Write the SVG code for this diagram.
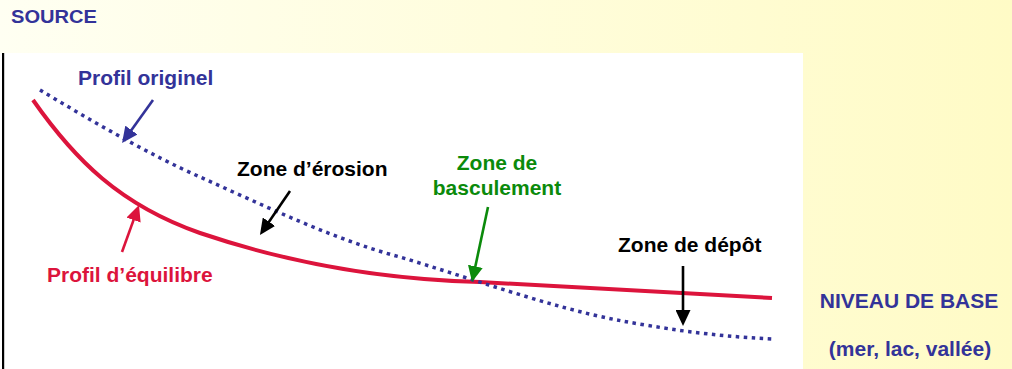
<svg xmlns="http://www.w3.org/2000/svg" width="1012" height="369" viewBox="0 0 1012 369">
  <defs>
    <linearGradient id="bg" x1="0" y1="0" x2="1" y2="0">
      <stop offset="0" stop-color="#FFFFF2"/>
      <stop offset="1" stop-color="#FFFBC6"/>
    </linearGradient>
    <marker id="ahBlue" viewBox="0 0 16 15" refX="6" refY="7.5" markerWidth="16" markerHeight="15" markerUnits="userSpaceOnUse" orient="auto">
      <path d="M0,0 L16,7.5 L0,15 z" fill="#333399"/>
    </marker>
    <marker id="ahRed" viewBox="0 0 16 15" refX="6" refY="7.5" markerWidth="16" markerHeight="15" markerUnits="userSpaceOnUse" orient="auto">
      <path d="M0,0 L16,7.5 L0,15 z" fill="#DC143C"/>
    </marker>
    <marker id="ahBlack" viewBox="0 0 16 15" refX="6" refY="7.5" markerWidth="16" markerHeight="15" markerUnits="userSpaceOnUse" orient="auto">
      <path d="M0,0 L16,7.5 L0,15 z" fill="#000000"/>
    </marker>
    <marker id="ahGreen" viewBox="0 0 16 15" refX="6" refY="7.5" markerWidth="16" markerHeight="15" markerUnits="userSpaceOnUse" orient="auto">
      <path d="M0,0 L16,7.5 L0,15 z" fill="#0B8A0B"/>
    </marker>
  </defs>
  <style>
    text { font-family: "Liberation Sans", Arial, sans-serif; font-weight: bold; font-size: 21px; }
    .blue { fill: #333399; }
    .red { fill: #DC143C; }
    .black { fill: #000000; }
    .green { fill: #0B8A0B; }
    .profile-eq { fill: none; stroke: #DC143C; stroke-width: 4; }
    .profile-orig { fill: none; stroke: #333399; stroke-width: 3.5; stroke-dasharray: 3.5 4.5; }
    .arrow { fill: none; stroke-width: 2.6; }
  </style>

  <rect x="0" y="0" width="1012" height="369" fill="url(#bg)"/>
  <rect x="0" y="53" width="803" height="316" fill="#FFFFFF"/>
  <rect x="2" y="53" width="2.2" height="316" fill="#000000"/>

  <g id="title-source">
    <text x="11" y="23" class="blue" style="font-size:19px" textLength="86" lengthAdjust="spacingAndGlyphs">SOURCE</text>
  </g>

  <g id="profil-equilibre-curve">
    <path class="profile-eq" d="M33,100 C75,160 120,205 200,233 C265,255 360,279 480,282 L772,298"/>
  </g>
  <g id="profil-originel-curve">
    <path class="profile-orig" d="M40,90 C90,120 150,155 200,177 C265,206 335,240 400,257 C470,278 550,307 617,320 C660,328 710,336 772,339"/>
  </g>

  <g id="connectors">
    <line class="arrow" x1="153" y1="100" x2="127.9" y2="134.9" stroke="#333399" marker-end="url(#ahBlue)"/>
    <line class="arrow" x1="122" y1="252" x2="135.6" y2="214.4" stroke="#DC143C" marker-end="url(#ahRed)"/>
    <line class="arrow" x1="290" y1="191" x2="265.6" y2="226.7" stroke="#000000" marker-end="url(#ahBlack)"/>
    <line class="arrow" x1="488" y1="207" x2="474.1" y2="272.2" stroke="#0B8A0B" marker-end="url(#ahGreen)"/>
    <line class="arrow" x1="683" y1="266" x2="683" y2="316" stroke="#000000" marker-end="url(#ahBlack)"/>
  </g>

  <g id="label-profil-originel">
    <text x="78" y="85" class="blue">Profil originel</text>
  </g>
  <g id="label-profil-equilibre">
    <text x="47" y="282" class="red">Profil d’équilibre</text>
  </g>
  <g id="label-zone-erosion">
    <text x="237" y="176" class="black">Zone d’érosion</text>
  </g>
  <g id="label-zone-basculement">
    <text x="497" y="170" class="green" text-anchor="middle">Zone de</text>
    <text x="497" y="195" class="green" text-anchor="middle">basculement</text>
  </g>
  <g id="label-zone-depot">
    <text x="618" y="252" class="black">Zone de dépôt</text>
  </g>
  <g id="label-niveau-base">
    <text x="909" y="308" class="blue" text-anchor="middle">NIVEAU DE BASE</text>
    <text x="910" y="356" class="blue" text-anchor="middle">(mer, lac, vallée)</text>
  </g>
</svg>
